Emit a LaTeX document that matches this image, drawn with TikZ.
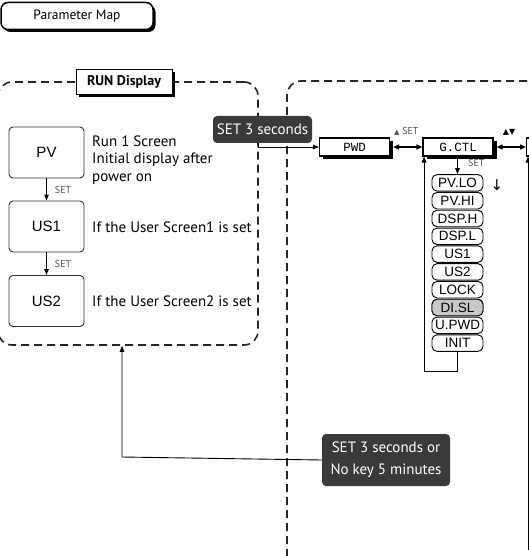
\documentclass[tikz,border=0pt]{standalone}
\usepackage{fontspec}
\setmainfont{PT Sans}
\newfontfamily\arialf{Liberation Sans}
\newfontfamily\monof{Liberation Mono}
\newfontfamily\symf{DejaVu Sans}
\usetikzlibrary{arrows.meta,shadows}
\definecolor{darkbox}{HTML}{3A3A3A}
\definecolor{setgrey}{HTML}{555555}
\definecolor{selgrey}{HTML}{C8C8C8}
\begin{document}
\begin{tikzpicture}[x=1pt,y=-1pt,
  region/.style={draw=black!85, dash pattern=on 8pt off 5pt, line width=1.6pt, rounded corners=14pt},
  scrbox/.style={draw=black!80, line width=0.9pt, rounded corners=4pt, minimum width=75pt, minimum height=51pt, inner sep=0, font=\arialf\fontsize{15}{18}\selectfont},
  note/.style={anchor=west, align=left, font=\fontsize{15}{17.5}\selectfont, inner sep=0},
  conn/.style={line width=0.9pt, -{Triangle[length=6pt,width=4.5pt]}},
  dual/.style={line width=1.3pt, {Triangle[length=6pt,width=5pt]}-{Triangle[length=6pt,width=5pt]}},
  setlbl/.style={text=setgrey, font=\fontsize{10}{12}\selectfont, inner sep=0},
  dark/.style={fill=darkbox, text=white, rounded corners=4pt, inner sep=0, align=center, font=\fontsize{15}{19}\selectfont},
  param/.style={draw, line width=1.1pt, fill=white, minimum height=18pt, minimum width=70pt, inner sep=0, font=\monof\fontsize{12.5}{14}\selectfont, general shadow={fill=black, shadow xshift=3.5pt, shadow yshift=-3pt}},
  item/.style={draw, line width=0.9pt, rounded corners=5pt, minimum width=51pt, minimum height=16.5pt, inner sep=0, fill=white, font=\arialf\fontsize{13.5}{15}\selectfont}
]
\useasboundingbox (0,0) rectangle (529,556);
\clip (0,0) rectangle (529,556);

% title
\node[draw, line width=1.5pt, rounded corners=7pt, fill=white, minimum width=152pt, minimum height=27pt, inner sep=0,
  general shadow={fill=black, shadow xshift=2.5pt, shadow yshift=-2.5pt}, font=\fontsize{13.5}{15}\selectfont]
  (pm) at (77,16) {Parameter Map};

% regions
\node[region, minimum width=260pt, minimum height=263pt, inner sep=0] (runbox) at (128,213.5) {};
\draw[region] (287,570) -- (287,81) -- (560,81);

\node[draw, line width=1pt, fill=white, minimum width=96pt, minimum height=25pt, inner sep=0,
  general shadow={fill=black, shadow xshift=2.5pt, shadow yshift=-2.5pt}, font=\bfseries\fontsize{14}{16}\selectfont]
  (runlbl) at (124,82) {RUN Display};

% run display screens
\node[scrbox] (pv) at (46.5,152.5) {PV};
\node[scrbox] (us1) at (46.5,226.5) {US1};
\node[scrbox] (us2) at (46.5,301) {US2};
\draw[conn] (pv) -- (us1) node[midway, right=8pt, setlbl] (s1) {SET};
\draw[conn] (us1) -- (us2) node[midway, right=8pt, setlbl] (s2) {SET};

\node[note] (n1) at (92,160) {Run 1 Screen\\Initial display after\\power on};
\node[note] (n2) at (92,227) {If the User Screen1 is set};
\node[note] (n3) at (92,301) {If the User Screen2 is set};

% SET 3 seconds
\node[dark, minimum width=99pt, minimum height=27pt] (set3) at (262.5,129.5) {SET 3 seconds};

% parameter row
\node[param] (pwd) at (354.5,147) {PWD};
\node[param] (gctl) at (458,147) {G.CTL};
\node[param, anchor=west] (nxt) at (526,147) {};
\draw[conn] (set3.south -| runbox.east) |- (pwd.west);
\draw[dual] (pwd.east) ++(3,0) coordinate (pe) -- (gctl.west);
\draw[dual] (gctl.east) ++(3,0) coordinate (ge) -- (nxt.west);
\node[setlbl, anchor=south west] (l1) at (394,136) {{\symf\fontsize{7}{8}\selectfont ▲} SET};
\node[inner sep=0, anchor=south] (l2) at (509,136) {\symf\fontsize{8}{9}\selectfont ▲▼};

% list
\foreach \n/\t [count=\i from 0] in {plo/PV.LO,phi/PV.HI,dsph/DSP.H,dspl/DSP.L,ua/US1,ub/US2,lock/LOCK,disl/DI.SL,upwd/U.PWD,init/INIT}{
  \node[item] (\n) at (457.5,182.9+17.8*\i) {\t};
}
\node[item, fill=selgrey] at (disl) {DI.SL};
\draw[conn] (gctl.south -| plo.north) -- (plo.north);
\node[setlbl, anchor=west] (l3) at (468,163) {SET};
\node[inner sep=0, font=\symf\fontsize{15}{16}\selectfont] (darr) at (497,185) {↓};

\coordinate (lp) at (424,371);
\draw[conn] (init.south) |- (lp) -- (lp |- gctl.south);

\coordinate (rb) at (528,549);
\draw[conn] (540,549) -- (rb) -- (rb |- nxt.south);

% exit
\node[dark, minimum width=128pt, minimum height=52pt, font=\fontsize{15}{22}\selectfont] (exitn) at (386,460) {SET 3 seconds or\\No key 5 minutes};
\coordinate (ex) at (122,457);
\draw[conn] (exitn.west) -- (ex) -- (ex |- runbox.south);
\end{tikzpicture}
\end{document}
